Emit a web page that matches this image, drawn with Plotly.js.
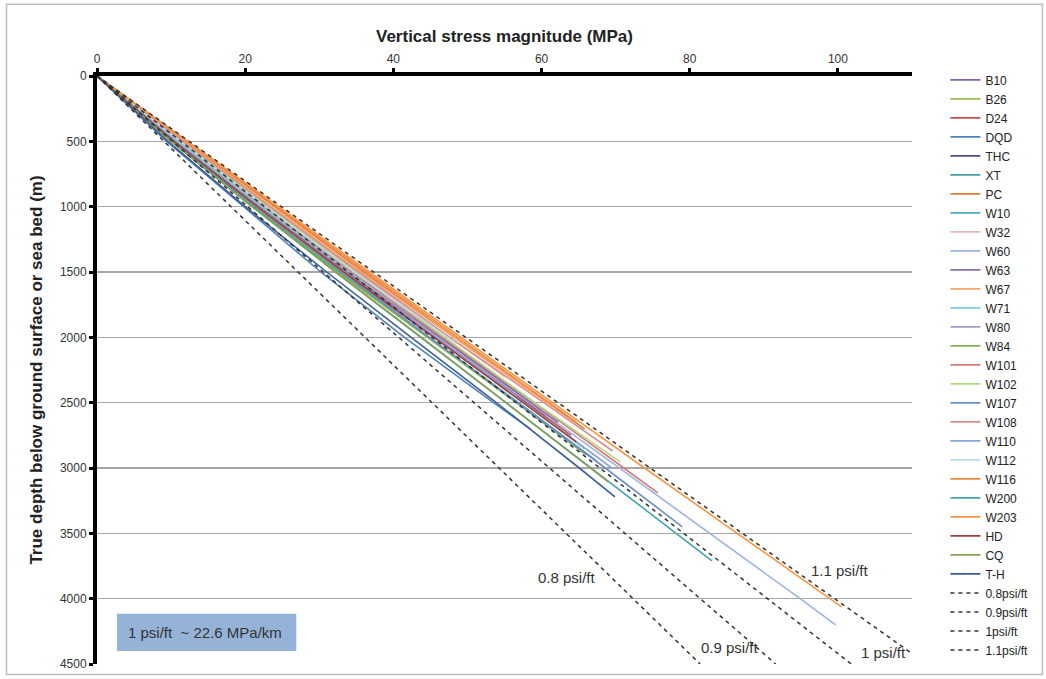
<!DOCTYPE html>
<html>
<head>
<meta charset="utf-8">
<script src="https://cdn.plot.ly/plotly-3.0.1.min.js"></script>
<style>html,body{margin:0;padding:0;background:#fff;}#chart{width:1046px;height:679px;}</style>
</head>
<body>
<div id="chart"></div>
<script>
// ---- Well data: depth (m) and vertical stress (MPa) ----
const dB10 = [0,500,1000,1500,2000,2500,2600],        sB10 = [0,10.6,21.8,33.6,45.9,58.1,60.5];
const dB26 = [0,500,1000,1500,2000,2400],             sB26 = [0,10.9,22.3,34.0,46.5,56.5];
const dD24 = [0,500,1000,1500,2000,2500,2750],        sD24 = [0,10.5,21.8,33.5,45.8,58.0,64.0];
const dDQD = [0,500,1000,1500,2000,2500,2700],        sDQD = [0,9.4,19.8,30.2,41.5,53.5,58.5];
const dTHC = [0,500,1000,1500,2000,2500],             sTHC = [0,10.9,22.2,34.0,46.2,58.5];
const dXT  = [0,500,1000,1500,2000,2500,2950],        sXT  = [0,10.2,21.2,32.8,44.8,56.9,67.5];
const dPC  = [0,500,1000,1500,2000,2500,2700],        sPC  = [0,12.0,24.0,36.0,48.3,60.8,65.8];
const dW10 = [0,500,1000,1500,2000,2500,2850],        sW10 = [0,10.4,21.6,33.3,45.5,57.6,65.8];
const dW32 = [0,500,1000,1500,2000,2300],             sW32 = [0,11.4,23.0,35.0,47.6,55.0];
const dW60 = [0,500,1000,1500,2000,2500,3000,3500,4000,4200], sW60 = [0,10.9,22.3,34.1,46.0,58.3,70.5,82.8,94.9,99.7];
const dW63 = [0,500,1000,1500,2000,2500,2650],        sW63 = [0,10.9,22.2,34.0,46.4,58.6,62.2];
const dW67 = [0,500,1000,1500,2000,2550],             sW67 = [0,11.8,23.6,35.6,48.2,62.0];
const dW71 = [0,500,1000,1500,2000,2200],             sW71 = [0,10.9,22.2,34.0,46.7,51.6];
const dW80 = [0,500,1000,1500,2000,2450],             sW80 = [0,10.4,21.6,33.4,45.7,56.6];
const dW84 = [0,500,1000,1500,2000,2500,2900],        sW84 = [0,10.1,21.0,32.5,44.6,56.6,66.0];
const dW101 = [0,500,1000,1500,2000,2500,3000,3190],  sW101 = [0,11.2,22.6,34.4,46.6,59.0,71.1,75.7];
const dW102 = [0,500,1000,1500,2000,2500,2953],       sW102 = [0,11.4,23.0,34.9,46.9,59.1,70.6];
const dW107 = [0,500,1000,1500,2000,2500,3000,3450],  sW107 = [0,10.5,21.6,33.1,44.9,56.8,68.6,79.0];
const dW108 = [0,500,1000,1500,2000,2500,2870],       sW108 = [0,11.6,23.3,35.3,47.6,60.3,69.6];
const dW110 = [0,500,1000,1500,2000,2500,3000],       sW110 = [0,10.5,21.6,33.3,45.6,57.6,69.5];
const dW112 = [0,500,1000,1500,2050],                 sW112 = [0,11.2,22.7,34.7,48.6];
const dW116 = [0,500,1000,1500,2000,2500,2650],       sW116 = [0,12.1,24.2,36.4,48.7,61.0,64.7];
const dW200 = [0,500,1000,1500,2000,2500,3000,3500,3711], sW200 = [0,10.2,21.0,32.2,43.7,55.2,66.7,78.2,83.0];
const dW203 = [0,500,1000,1500,2000,2500,3000,3500,4063], sW203 = [0,12.2,24.5,36.8,49.1,61.5,73.9,86.4,100.5];
const dHD  = [0,500,1000,1500,2000,2500,2800],        sHD  = [0,10.4,21.6,33.3,45.5,57.5,64.7];
const dCQ  = [0,500,1000,1500,2000,2500,3000,3106],   sCQ  = [0,10.0,20.9,32.2,43.8,55.2,66.6,69.0];
const dTH  = [0,500,1000,1500,2000,2500,3000,3221],   sTH  = [0,9.6,20.0,31.0,42.4,53.9,65.1,69.9];

const wellNames = ['B10','B26','D24','DQD','THC','XT','PC','W10','W32','W60','W63','W67','W71','W80','W84',
                   'W101','W102','W107','W108','W110','W112','W116','W200','W203','HD','CQ','T-H'];
const wellDepths = [dB10,dB26,dD24,dDQD,dTHC,dXT,dPC,dW10,dW32,dW60,dW63,dW67,dW71,dW80,dW84,
                    dW101,dW102,dW107,dW108,dW110,dW112,dW116,dW200,dW203,dHD,dCQ,dTH];
const wellStress = [sB10,sB26,sD24,sDQD,sTHC,sXT,sPC,sW10,sW32,sW60,sW63,sW67,sW71,sW80,sW84,
                    sW101,sW102,sW107,sW108,sW110,sW112,sW116,sW200,sW203,sHD,sCQ,sTH];

// ---- Reference gradient lines (psi/ft): stress at surface and at 4500 m ----
const refNames  = ['0.8psi/ft','0.9psi/ft','1psi/ft','1.1psi/ft'];
const refDepth  = [0, 4500];
const refStress08 = [0, 81.4];
const refStress09 = [0, 91.6];
const refStress10 = [0, 101.8];
const refStress11 = [0, 112.0];
const refStress = [refStress08, refStress09, refStress10, refStress11];

// ---- Axis ticks ----
const xTicks = [0,20,40,60,80,100];
const yTicks = [0,500,1000,1500,2000,2500,3000,3500,4000,4500];

// ---- Styles ----
const wellColors = ['#8064A2','#9BBB59','#C0504D','#4F81BD','#5B4A80','#4A9BA8','#E07B39','#4BACC6','#E6B9B8',
                    '#9DB3E0','#8A6FAE','#F9A66B','#7FCCDB','#A99BC8','#86B04F','#D47B79','#B3D87F','#6A8FCB',
                    '#D88E8C','#8CA3D3','#B8D8E6','#F28A3E','#43A3B0','#F79646','#A0413F','#8AA052','#3F5E96'];

const traces = [];
wellNames.forEach((n, i) => {
  traces.push({
    type: 'scatter', mode: 'lines', name: n,
    x: wellStress[i], y: wellDepths[i],
    line: {color: wellColors[i], width: 1.6}
  });
});
refNames.forEach((n, i) => {
  traces.push({
    type: 'scatter', mode: 'lines', name: n,
    x: refStress[i], y: refDepth,
    line: {color: '#333333', width: 1.5, dash: '4px,4px'}
  });
});

const annFont = {family: 'Liberation Sans, Arial, sans-serif', size: 15, color: '#333'};
const layout = {
  width: 1046, height: 679,
  margin: {l: 97, r: 134, t: 76, b: 15},
  paper_bgcolor: '#ffffff', plot_bgcolor: '#ffffff',
  font: {family: 'Liberation Sans, Arial, sans-serif', size: 11, color: '#333'},
  showlegend: true,
  legend: {x: 1.041, y: 1.018, xanchor: 'left', yanchor: 'top', font: {size: 12, color: '#222'},
           bgcolor: 'rgba(0,0,0,0)', itemwidth: 30, tracegroupgap: 0, maxheight: 670},
  xaxis: {
    side: 'top', range: [0, 110], tickvals: xTicks, ticktext: xTicks.map(String),
    showline: true, linecolor: '#000', linewidth: 4, ticks: 'outside', ticklen: 4, tickwidth: 3, tickcolor: '#000',
    showgrid: false, zeroline: false, tickfont: {size: 12, color: '#333'},
    title: {text: 'Vertical stress magnitude (MPa)', font: {size: 17, color: '#222', weight: 'bold'}, standoff: 6}
  },
  yaxis: {
    range: [4500, 0], tickvals: yTicks, ticktext: yTicks.map(String),
    showline: true, linecolor: '#000', linewidth: 4, ticks: 'outside', ticklen: 4, tickwidth: 3, tickcolor: '#000',
    showgrid: true, gridcolor: '#A6A6A6', gridwidth: 1.5, zeroline: false, tickfont: {size: 12, color: '#333'},
    title: {text: 'True depth below ground surface or sea bed (m)', font: {size: 17, color: '#222', weight: 'bold'}, standoff: 14}
  },
  shapes: [
    {type: 'rect', xref: 'paper', yref: 'paper', x0: -0.111, x1: 1.16, y0: -0.018, y1: 1.122,
     line: {color: '#BFBFBF', width: 1.5}, fillcolor: 'rgba(0,0,0,0)', layer: 'below'},
    {type: 'rect', xref: 'x', yref: 'y', x0: 2.7, x1: 26.9, y0: 4116, y1: 4400,
     line: {width: 0}, fillcolor: '#95B3D7', layer: 'above'}
  ],
  annotations: [
    {x: 14.6, y: 4258, xref: 'x', yref: 'y', text: '1 psi/ft  ~ 22.6 MPa/km', showarrow: false, font: annFont},
    {x: 100.3, y: 3787, xref: 'x', yref: 'y', text: '1.1 psi/ft', showarrow: false, font: annFont},
    {x: 63.4, y: 3841, xref: 'x', yref: 'y', text: '0.8 psi/ft', showarrow: false, font: annFont},
    {x: 85.4, y: 4376, xref: 'x', yref: 'y', text: '0.9 psi/ft', showarrow: false, font: annFont},
    {x: 106.1, y: 4415, xref: 'x', yref: 'y', text: '1 psi/ft', showarrow: false, font: annFont}
  ]
};

Plotly.newPlot('chart', traces, layout, {displayModeBar: false, staticPlot: true});
</script>
</body>
</html>
